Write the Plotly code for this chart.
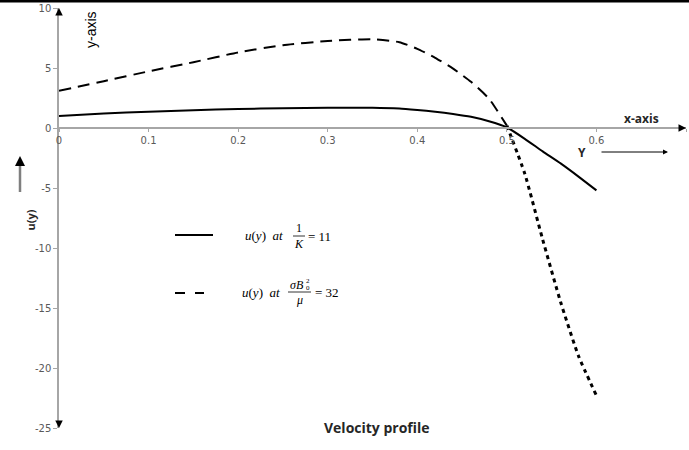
import plotly.graph_objects as go

# ---------------- data ----------------
y_pos = [0, 0.05, 0.1, 0.15, 0.2, 0.25, 0.3, 0.35, 0.38, 0.4, 0.42, 0.44, 0.46,
         0.48, 0.5, 0.52, 0.54, 0.56, 0.58, 0.6]
u_K = [1.0, 1.2, 1.36, 1.48, 1.58, 1.65, 1.69, 1.69, 1.62, 1.5, 1.36, 1.17, 0.93,
       0.56, 0.05, -0.9, -1.95, -2.95, -4.05, -5.2]
u_M = [3.1, 3.9, 4.72, 5.48, 6.3, 6.9, 7.25, 7.4, 7.15, 6.6, 5.85, 4.95, 3.85,
       2.45, 0.2, -3.8, -9.3, -14.5, -19.0, -22.3]
x_ticks = [0, 0.1, 0.2, 0.3, 0.4, 0.5, 0.6, 0.7]
x_tick_labels = ["0", "0.1", "0.2", "0.3", "0.4", "0.5", "0.6", "0.7"]
y_ticks = [10, 5, 0, -5, -10, -15, -20, -25]
y_tick_labels = ["10", "5", "0", "-5", "-10", "-15", "-20", "-25"]

W, H = 689, 450
L, R, T, B = 59, 3, 8, 22
X0, X1 = 0, 0.7
Y0, Y1 = -25, 10
pw, ph = W - L - R, H - T - B


def dx(px):
    return X0 + (px - L) / pw * (X1 - X0)


def dy(py):
    return Y1 - (py - T) / ph * (Y1 - Y0)


def py_paper(py):
    return 1 - (py - T) / ph


fig = go.Figure()

fig.add_trace(go.Scatter(x=y_pos, y=u_K, mode="lines",
                         line=dict(color="black", width=2, shape="spline", smoothing=0.5),
                         showlegend=False, hoverinfo="skip"))
split = y_pos.index(0.5)
fig.add_trace(go.Scatter(x=y_pos[:split + 1], y=u_M[:split + 1], mode="lines",
                         line=dict(color="black", width=2, dash="12px,7px", shape="spline", smoothing=0.5),
                         showlegend=False, hoverinfo="skip"))
fig.add_trace(go.Scatter(x=y_pos[split:], y=u_M[split:], mode="lines",
                         line=dict(color="black", width=3, dash="4px,4px", shape="spline", smoothing=0.5),
                         showlegend=False, hoverinfo="skip"))

tickfont = dict(family="DejaVu Sans", size=10, color="#595959")
fig.update_layout(
    template="none",
    width=W, height=H,
    margin=dict(l=L, r=R, t=T, b=B, pad=0, autoexpand=False),
    paper_bgcolor="white", plot_bgcolor="white",
    hovermode=False,
    xaxis=dict(range=[X0, X1], tickvals=x_ticks, ticktext=x_tick_labels, showgrid=False,
               zeroline=False, showline=True, linecolor="#a6a6a6", linewidth=1.5,
               ticks="outside", ticklen=3, tickcolor="#a6a6a6", tickfont=tickfont,
               anchor="free", position=(0 - Y0) / (Y1 - Y0), fixedrange=True, automargin=False),
    yaxis=dict(range=[Y0, Y1], tickvals=y_ticks, ticktext=y_tick_labels, showgrid=False,
               zeroline=False, showline=True, linecolor="#a6a6a6", linewidth=1.5,
               ticks="outside", ticklen=4, tickcolor="#a6a6a6", tickfont=tickfont,
               fixedrange=True, automargin=False),
)

shapes = []
# top black bar
shapes.append(dict(type="rect", xref="paper", yref="paper",
                   x0=-L / pw, x1=1 + R / pw, y0=1 + (T - 2.5) / ph, y1=1 + T / ph,
                   fillcolor="black", line=dict(width=0)))
# legend swatches
shapes.append(dict(type="line", xref="x", yref="y", x0=dx(175), x1=dx(213), y0=dy(235), y1=dy(235),
                   line=dict(color="black", width=2)))
shapes.append(dict(type="line", xref="x", yref="y", x0=dx(175), x1=dx(185), y0=dy(293), y1=dy(293),
                   line=dict(color="black", width=2)))
shapes.append(dict(type="line", xref="x", yref="y", x0=dx(195), x1=dx(204), y0=dy(293), y1=dy(293),
                   line=dict(color="black", width=2)))
# fraction bars
shapes.append(dict(type="line", xref="x", yref="y", x0=dx(293), x1=dx(305), y0=dy(236), y1=dy(236),
                   line=dict(color="black", width=0.8)))
shapes.append(dict(type="line", xref="x", yref="y", x0=dx(288), x1=dx(311), y0=dy(292), y1=dy(292),
                   line=dict(color="black", width=0.8)))
# u(y) arrow shaft (gray)
shapes.append(dict(type="line", xref="paper", yref="y", x0=(20 - L) / pw, x1=(20 - L) / pw,
                   y0=dy(192), y1=dy(160), line=dict(color="#7f7f7f", width=2.5)))
fig.update_layout(shapes=shapes)

ann = []
# axis arrowheads
ann.append(dict(x=0, y=Y1, xref="x", yref="y", ax=0, ay=6, axref="pixel", ayref="pixel",
                showarrow=True, arrowhead=2, arrowsize=1, arrowwidth=1.5, arrowcolor="black", text=""))
ann.append(dict(x=0, y=Y0, xref="x", yref="y", ax=0, ay=-6, axref="pixel", ayref="pixel",
                showarrow=True, arrowhead=2, arrowsize=1, arrowwidth=1.5, arrowcolor="black", text=""))
ann.append(dict(x=X1, y=0, xref="x", yref="y", ax=-6, ay=0, axref="pixel", ayref="pixel",
                showarrow=True, arrowhead=2, arrowsize=1, arrowwidth=1.5, arrowcolor="black", text=""))
# Y --> arrow
ann.append(dict(x=dx(668), y=dy(152), xref="x", yref="y", ax=-68, ay=0, axref="pixel", ayref="pixel",
                showarrow=True, arrowhead=2, arrowsize=1, arrowwidth=1, arrowcolor="black", text=""))
# u(y) arrow head
ann.append(dict(x=(20 - L) / pw, y=dy(156), xref="paper", yref="y", ax=0, ay=6, axref="pixel",
                ayref="pixel", showarrow=True, arrowhead=2, arrowsize=1, arrowwidth=2,
                arrowcolor="black", text=""))

ann.append(dict(x=dx(641), y=dy(118), xref="x", yref="y", text="<b>x-axis</b>", showarrow=False,
                font=dict(family="Open Sans", size=12, color="#262626")))
ann.append(dict(x=dx(582), y=dy(152), xref="x", yref="y", text="<b>Y</b>", showarrow=False,
                font=dict(family="Open Sans", size=12, color="#262626")))
ann.append(dict(x=dx(91), y=dy(30), xref="x", yref="y", text="y-axis", showarrow=False, textangle=-90,
                font=dict(family="Liberation Sans Narrow, Liberation Sans", size=14, color="black")))
ann.append(dict(x=(20 - L) / pw, y=dy(220), xref="paper", yref="y", text="<b>u(y)</b>", showarrow=False,
                textangle=-90, font=dict(family="Open Sans", size=11, color="#262626")))
ann.append(dict(x=(377 - L) / pw, y=py_paper(439), xref="paper", yref="paper",
                text="<b>Velocity profile</b>", showarrow=False,
                font=dict(family="Open Sans", size=14, color="#262626")))

serif = dict(family="Liberation Serif", size=13, color="black")
serif_s = dict(family="Liberation Serif", size=12, color="black")
# legend entry 1
ann.append(dict(x=dx(243), y=dy(235), xref="x", yref="y", text="<i>u</i>(<i>y</i>)  <i>at</i>",
                showarrow=False, xanchor="left", font=serif))
ann.append(dict(x=dx(299), y=dy(228), xref="x", yref="y", text="1", showarrow=False, font=serif_s))
ann.append(dict(x=dx(299), y=dy(244), xref="x", yref="y", text="<i>K</i>", showarrow=False, font=serif_s))
ann.append(dict(x=dx(306), y=dy(236), xref="x", yref="y", text="= 11", showarrow=False, xanchor="left",
                font=serif))
# legend entry 2
ann.append(dict(x=dx(240), y=dy(292), xref="x", yref="y", text="<i>u</i>(<i>y</i>)  <i>at</i>",
                showarrow=False, xanchor="left", font=serif))
ann.append(dict(x=dx(297), y=dy(285), xref="x", yref="y", text="<i>σB</i>", showarrow=False, font=serif_s))
ann.append(dict(x=dx(308), y=dy(281), xref="x", yref="y", text="2", showarrow=False,
                font=dict(family="Liberation Serif", size=7, color="black")))
ann.append(dict(x=dx(308), y=dy(288), xref="x", yref="y", text="0", showarrow=False,
                font=dict(family="Liberation Serif", size=7, color="black")))
ann.append(dict(x=dx(299), y=dy(300), xref="x", yref="y", text="<i>μ</i>", showarrow=False, font=serif_s))
ann.append(dict(x=dx(313), y=dy(292), xref="x", yref="y", text="= 32", showarrow=False, xanchor="left",
                font=serif))
fig.update_layout(annotations=ann)

fig.write_html("out.html", config={"displayModeBar": False},
               post_script="document.body.style.margin='0';document.body.style.padding='0';")
